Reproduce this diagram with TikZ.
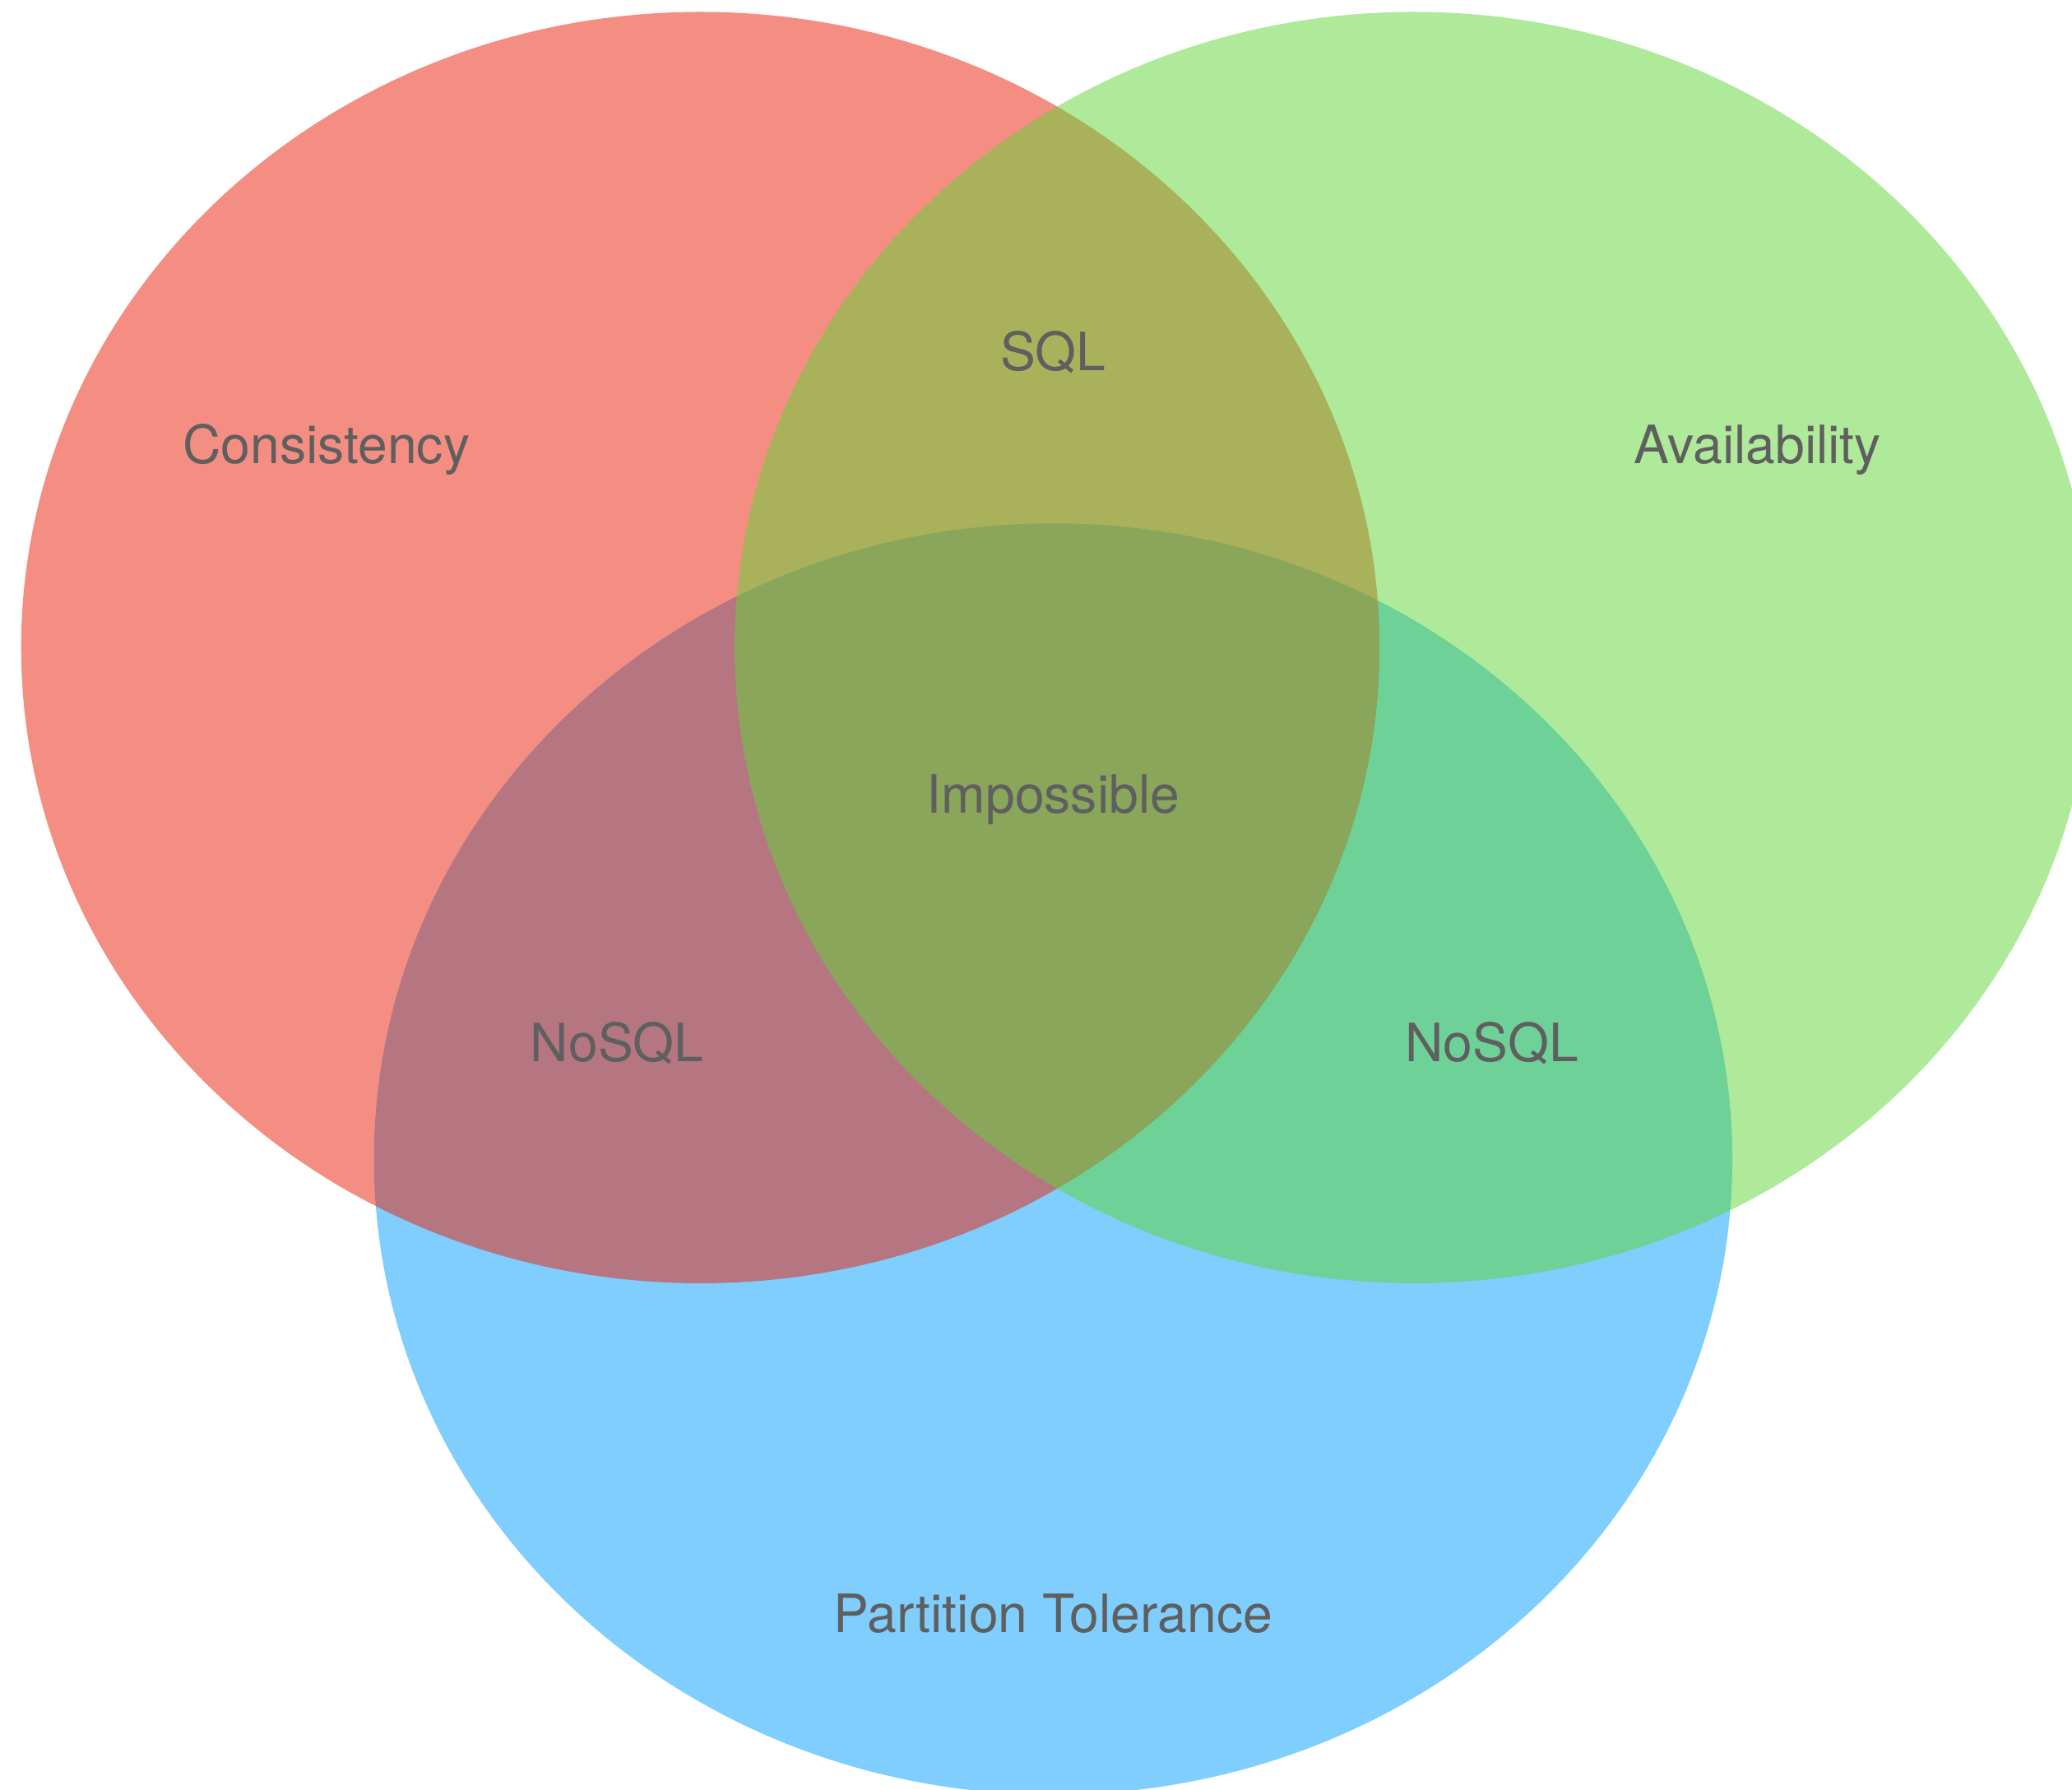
\documentclass[tikz,border=0pt]{standalone}
\usepackage{fontspec}
\setmainfont{TeX Gyre Heros}
\definecolor{cRed}{RGB}{235,31,9}
\definecolor{cGreen}{RGB}{95,215,53}
\definecolor{cBlue}{RGB}{1,159,253}
\definecolor{txt}{RGB}{95,95,95}
\begin{document}
\begin{tikzpicture}[x=0.3pt,y=-0.3pt,
  setfill/.style={fill=#1,fill opacity=0.5},
  lbl/.style={anchor=base,text=txt,font=\fontsize{12}{14}\selectfont,inner sep=0pt}]
\useasboundingbox (0,0) rectangle (1568,1354);
\clip (0,0) rectangle (1568,1354);
\fill[white] (0,0) rectangle (1568,1354);
\fill[setfill=cBlue] (797,877) ellipse [x radius=154.2pt, y radius=144.3pt];
\fill[setfill=cRed] (530,490) ellipse [x radius=154.2pt, y radius=144.3pt];
\fill[setfill=cGreen] (1070,490) ellipse [x radius=154.2pt, y radius=144.3pt];
\node[lbl] (cons) at (247,350.5) {Consistency};
\node[lbl] (avail) at (1330,350.5) {Availability};
\node[lbl] (sql) at (797,280.5) {SQL};
\node[lbl] (imp) at (797,615) {Impossible};
\node[lbl] (nosqlL) at (467,803.5) {NoSQL};
\node[lbl] (nosqlR) at (1129,803.5) {NoSQL};
\node[lbl] (part) at (797,1235.5) {Partition Tolerance};
\end{tikzpicture}
\end{document}
